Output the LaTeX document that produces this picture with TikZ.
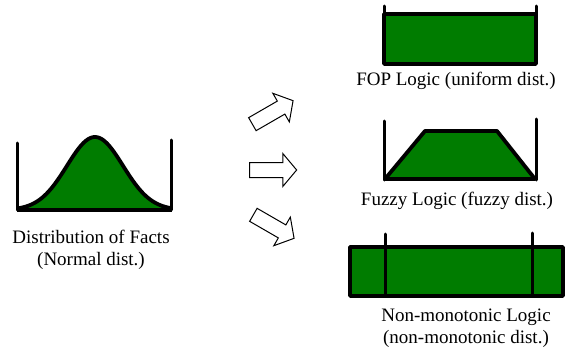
\documentclass[tikz,border=0pt]{standalone}
\usepackage{fontspec}
\setmainfont{Liberation Serif}
\usepackage{xcolor}
\usetikzlibrary{shapes.arrows}
\definecolor{distgreen}{RGB}{0,124,0}

\begin{document}
\begin{tikzpicture}[x=1pt, y=-1pt,
    outline/.style={line width=3.8pt, line join=round},
    limit/.style={line width=3pt, line cap=round},
    label/.style={font=\fontsize{19}{22}\selectfont, align=center, inner sep=0pt},
    fatarrow/.style={single arrow, draw, line width=1pt, minimum height=47pt,
        inner sep=7pt, single arrow head extend=9pt, single arrow tip angle=100}]
    \useasboundingbox (0,0) rectangle (566,356);

    % Normal distribution
    \fill[distgreen] (17,210) -- plot[domain=17:172, samples=80] (\x, {210-73*exp(-((\x-95)/28)^2/2)}) -- (172,210) -- cycle;
    \draw[outline] plot[domain=17:172, samples=80] (\x, {210-73*exp(-((\x-95)/28)^2/2)});
    \draw[outline] (17,210) -- (172,210);
    \draw[limit] (17,143) -- (17,210);
    \draw[limit] (171,140) -- (171,210);
    \node[label] (facts) at (91,250) {Distribution of Facts\\(Normal dist.)};

    % Arrows
    \node[fatarrow, rotate=30] (toFop) at (270,114) {};
    \node[fatarrow] (toFuzzy) at (270,170) {};
    \node[fatarrow, rotate=-30] (toNonmono) at (271,225) {};

    % Uniform distribution
    \draw[outline, fill=distgreen] (384,14) rectangle (536,64);
    \draw[limit] (384,6) -- (384,14);
    \draw[limit] (536,6) -- (536,14);
    \node[label] (fop) at (456,81) {FOP Logic (uniform dist.)};

    % Fuzzy distribution
    \draw[outline, fill=distgreen] (385,179) -- (425,131) -- (497,131) -- (535,179) -- cycle;
    \draw[limit] (384,121) -- (384,180);
    \draw[limit] (536,119) -- (536,180);
    \node[label] (fuzzy) at (457,201) {Fuzzy Logic (fuzzy dist.)};

    % Non-monotonic distribution
    \draw[outline, fill=distgreen] (350,247) rectangle (563,296);
    \draw[limit] (385,234) -- (385,296);
    \draw[limit] (532,233) -- (532,296);
    \node[label] (nonmono) at (466,328) {Non-monotonic Logic\\(non-monotonic dist.)};
\end{tikzpicture}
\end{document}
